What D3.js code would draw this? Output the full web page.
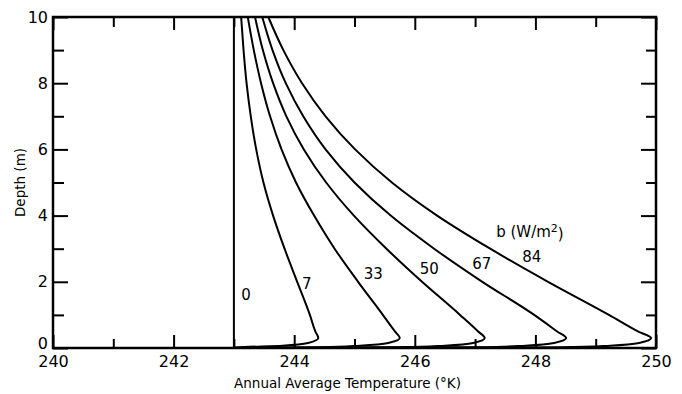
<!DOCTYPE html>
<html>
<head>
<meta charset="utf-8">
<script src="https://cdn.jsdelivr.net/npm/d3@7"></script>
<style>
  body { margin: 0; background: #fff; }
  text { font-family: "DejaVu Sans", sans-serif; fill: #000; }
</style>
</head>
<body>
<div id="chart"></div>
<script>
// depth below surface (m), shared by every curve
const depths = [10, 9, 8, 7, 6, 5, 4, 3, 2, 1, 0.5, 0.3, 0.15, 0.07, 0.02, 0];

// annual average temperature (K) for each heat flux b (W/m2)
const temp_b0  = [243.0, 243.0, 243.0, 243.0, 243.0, 243.0, 243.0, 243.0, 243.0, 243.0, 243.0, 243.0, 243.0, 243.0, 243.0, 243.0];
const temp_b7  = [243.12, 243.16, 243.21, 243.28, 243.37, 243.49, 243.65, 243.84, 244.05, 244.26, 244.35, 244.40, 244.23, 243.81, 243.07, 243.0];
const temp_b33 = [243.23, 243.33, 243.45, 243.60, 243.79, 244.03, 244.33, 244.67, 245.06, 245.47, 245.67, 245.75, 245.56, 245.09, 244.43, 243.0];
const temp_b50 = [243.35, 243.48, 243.65, 243.87, 244.16, 244.53, 244.99, 245.53, 246.12, 246.75, 247.05, 247.16, 246.97, 246.50, 245.75, 243.0];
const temp_b67 = [243.47, 243.64, 243.86, 244.15, 244.52, 245.00, 245.60, 246.32, 247.12, 247.98, 248.36, 248.51, 248.31, 247.84, 247.08, 243.0];
const temp_b84 = [243.57, 243.82, 244.13, 244.52, 245.01, 245.62, 246.37, 247.25, 248.21, 249.22, 249.70, 249.92, 249.72, 249.24, 248.41, 243.0];

const fluxNames = ["0", "7", "33", "50", "67", "84"];
const series = [temp_b0, temp_b7, temp_b33, temp_b50, temp_b67, temp_b84];

// where each curve label sits (temperature, depth)
const labelTemp  = [243.2, 244.21, 245.31, 246.24, 247.11, 247.94];
const labelDepth = [1.6, 1.93, 2.24, 2.39, 2.54, 2.75];

const xMajor = [240, 242, 244, 246, 248, 250];
const xMinor = [241, 243, 245, 247, 249];
const yMajor = [0, 2, 4, 6, 8, 10];
const yMinor = [1, 3, 5, 7, 9];

let margin = {top: 17, right: 26, bottom: 46, left: 53},
    width = 682 - margin.left - margin.right,
    height = 394 - margin.top - margin.bottom;

let svg = d3.select("#chart").append("svg")
    .attr("width", 682)
    .attr("height", 394)
    .append("g")
    .attr("transform", "translate(" + margin.left + "," + margin.top + ")");

let x = d3.scaleLinear().domain([240, 250]).range([0, width]);
let y = d3.scaleLinear().domain([0, 10]).range([height, 0]);

// ticks point inward on all four sides
function styleAxis(g) {
    g.select(".domain").remove();
    g.selectAll(".tick line").attr("stroke", "#000").attr("stroke-width", 2);
    g.selectAll(".tick text").style("font-size", "16px");
}

svg.append("g").attr("transform", "translate(0," + height + ")")
    .call(d3.axisBottom(x).tickValues(xMajor).tickSize(-13).tickPadding(8).tickFormat(d3.format("d")))
    .call(styleAxis);
svg.append("g").attr("transform", "translate(0," + height + ")")
    .call(d3.axisBottom(x).tickValues(xMinor).tickSize(-9).tickFormat(""))
    .call(styleAxis);
svg.append("g")
    .call(d3.axisTop(x).tickValues(xMajor).tickSize(-13).tickFormat(""))
    .call(styleAxis);
svg.append("g")
    .call(d3.axisTop(x).tickValues(xMinor).tickSize(-10).tickFormat(""))
    .call(styleAxis);

let yAxis = svg.append("g")
    .call(d3.axisLeft(y).tickValues(yMajor).tickSize(-15).tickPadding(5).tickFormat(d3.format("d")))
    .call(styleAxis);
// the zero label sits a little above its tick, clear of "240"
yAxis.selectAll(".tick text").filter(d => d === 0).attr("dy", "0.0em");

svg.append("g")
    .call(d3.axisLeft(y).tickValues(yMinor).tickSize(-11).tickFormat(""))
    .call(styleAxis);
svg.append("g").attr("transform", "translate(" + width + ",0)")
    .call(d3.axisRight(y).tickValues(yMajor).tickSize(-15).tickFormat(""))
    .call(styleAxis);
svg.append("g").attr("transform", "translate(" + width + ",0)")
    .call(d3.axisRight(y).tickValues(yMinor).tickSize(-10).tickFormat(""))
    .call(styleAxis);

// frame
svg.append("rect")
    .attr("width", width)
    .attr("height", height)
    .attr("fill", "none")
    .attr("stroke", "#000")
    .attr("stroke-width", 2.5);

// curves, one per flux value
let line = d3.line()
    .x(d => x(d.t))
    .y(d => y(d.d))
    .curve(d3.curveMonotoneY);

series.forEach((temps, i) => {
    let pts = depths.map((d, j) => ({d: d, t: temps[j]}))
        .sort((a, b) => d3.ascending(a.d, b.d));
    svg.append("path")
        .datum(pts)
        .attr("d", line)
        .attr("fill", "none")
        .attr("stroke", "#000")
        .attr("stroke-width", 2);
    svg.append("text")
        .attr("x", x(labelTemp[i]))
        .attr("y", y(labelDepth[i]))
        .attr("dy", "0.35em")
        .attr("text-anchor", "middle")
        .style("font-size", "15px")
        .text(fluxNames[i]);
});

// units label for the curves
let unit = svg.append("text")
    .attr("x", x(247.91))
    .attr("y", y(3.5))
    .attr("dy", "0.35em")
    .attr("text-anchor", "middle")
    .style("font-size", "15px");
unit.append("tspan").text("b (W/m");
unit.append("tspan").attr("dy", "-0.45em").style("font-size", "11px").text("2");
unit.append("tspan").attr("dy", "0.45em").text(")");

// axis titles
svg.append("text")
    .attr("x", width / 2 - 7)
    .attr("y", height + 40)
    .attr("text-anchor", "middle")
    .style("font-size", "13.5px")
    .text("Annual Average Temperature (°K)");

svg.append("text")
    .attr("transform", "rotate(-90)")
    .attr("x", -(height / 2) + 0)
    .attr("y", -28)
    .attr("text-anchor", "middle")
    .style("font-size", "13.5px")
    .text("Depth (m)");
</script>
</body>
</html>
